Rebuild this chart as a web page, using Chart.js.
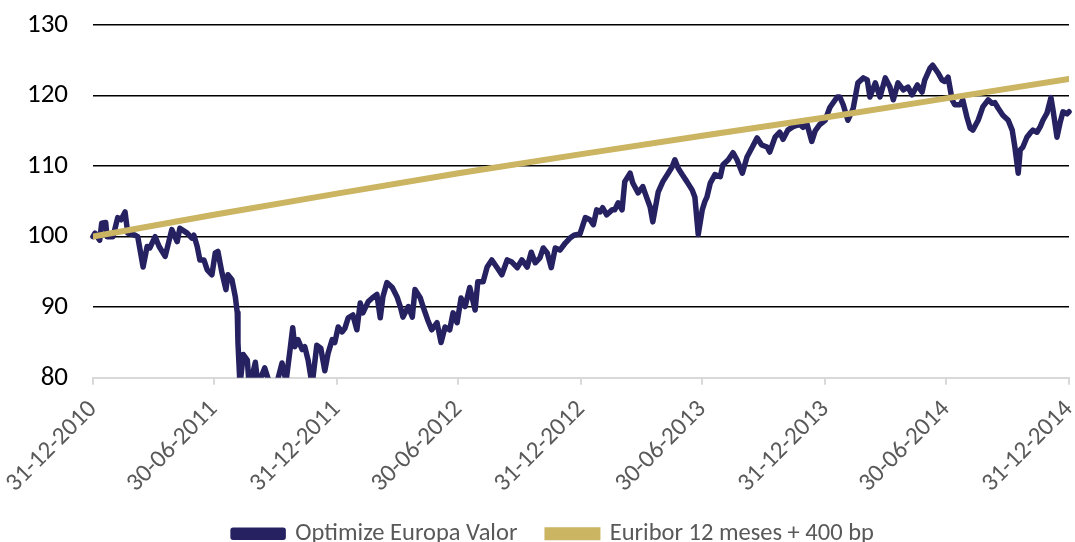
<!DOCTYPE html>
<html>
<head>
<meta charset="utf-8">
<script src="https://cdn.jsdelivr.net/npm/chart.js@4.4.1/dist/chart.umd.min.js"></script>
<style>
html, body { margin: 0; padding: 0; background: #fff; overflow: hidden; }
#wrap { width: 1075px; height: 556px; }
</style>
</head>
<body>
<div id="wrap"><canvas id="myChart" width="1075" height="556"></canvas></div>
<script>
// days counted from 31-12-2010
var tickDays = [0, 181, 365, 547, 731, 912, 1096, 1277, 1461];
var tickLabels = ['31-12-2010', '30-06-2011', '31-12-2011', '30-06-2012', '31-12-2012',
                  '30-06-2013', '31-12-2013', '30-06-2014', '31-12-2014'];

var fundDays = [
  0,3,10,13,19,21,30,37,42,48,
  52,63,67,75,81,85,93,99,108,118,
  126,130,141,148,151,156,160,166,171,178,
  183,187,193,199,202,208,213,216,217,220,
  225,231,234,243,247,257,265,274,283,289,
  295,299,302,307,313,317,322,328,335,341,
  347,352,358,362,367,373,377,382,389,395,
  400,404,412,418,425,430,434,440,448,455,
  460,464,472,478,482,490,494,501,507,515,
  521,527,534,539,545,551,557,564,572,576,
  584,590,597,605,612,620,627,635,642,650,
  656,662,669,674,680,686,692,699,707,714,
  720,729,737,744,749,754,759,763,769,777,
  781,786,792,796,804,808,816,823,829,834,
  838,846,853,861,867,871,876,882,889,897,
  901,906,912,916,919,924,931,939,943,951,
  958,964,972,979,987,994,1001,1009,1013,1021,
  1028,1033,1040,1048,1058,1063,1069,1076,1081,1088,
  1096,1103,1114,1118,1123,1130,1138,1145,1153,1159,
  1163,1171,1178,1186,1193,1198,1205,1213,1220,1226,
  1234,1241,1245,1253,1257,1265,1271,1275,1280,1286,
  1290,1298,1302,1308,1313,1317,1325,1332,1340,1346,
  1350,1355,1362,1370,1376,1380,1385,1388,1392,1398,
  1403,1407,1413,1418,1422,1428,1434,1437,1443,1448,
  1452,1458,1461
];
var fundValues = [
  100.0,100.5,99.5,101.9,102.0,100.0,100.0,102.7,102.4,103.5,
  100.5,100.2,100.0,95.7,98.6,98.4,100.0,98.6,97.2,101.0,
  99.3,101.2,100.5,99.8,100.2,98.6,96.7,96.7,95.3,94.6,
  97.7,97.9,94.9,92.5,94.6,93.9,91.5,89.2,85.0,79.0,
  83.3,82.5,78.5,82.2,79.0,81.4,79.0,78.8,82.1,79.5,
  84.0,87.1,84.4,85.4,84.0,84.4,82.5,79.0,84.6,84.2,
  81.0,83.5,85.4,85.0,87.2,86.5,87.0,88.5,88.9,86.8,
  90.6,89.2,90.8,91.3,91.8,88.5,91.5,93.5,92.8,91.5,
  90.1,88.6,90.1,88.6,92.5,91.3,90.1,88.2,86.8,87.8,
  85.0,87.2,86.8,89.2,87.8,91.3,90.1,92.8,89.6,93.6,
  93.6,95.7,96.7,95.6,94.6,96.7,96.4,95.6,96.7,95.7,
  97.8,96.3,97.0,98.4,97.7,95.6,98.4,98.1,99.1,99.8,
  100.2,100.4,102.7,102.4,101.7,103.8,103.5,104.1,103.1,103.8,
  103.8,104.8,103.8,107.8,109.0,107.6,106.2,107.1,105.5,104.2,
  102.1,106.3,107.8,109.0,109.9,110.9,109.7,108.8,107.8,106.6,
  105.6,100.3,103.8,105.0,105.6,107.6,108.8,108.5,110.2,110.9,
  111.9,110.9,109.0,111.3,112.7,114.0,113.0,112.7,112.0,114.1,
  114.8,113.8,115.1,115.6,115.9,115.5,115.9,113.5,115.0,115.9,
  116.5,118.3,119.8,119.8,118.7,116.5,118.2,121.8,122.5,122.2,
  119.8,121.8,119.8,122.5,121.2,119.4,121.8,120.8,121.2,120.1,
  121.5,120.5,122.2,123.9,124.3,123.2,122.2,122.0,122.6,119.4,
  118.7,118.7,119.4,117.0,115.4,115.1,116.5,118.4,119.4,118.9,
  119.0,118.2,117.2,116.5,115.1,112.7,109.0,112.3,112.7,114.1,
  114.7,115.1,114.8,115.6,116.5,117.5,119.7,118.0,114.1,116.3,
  117.7,117.4,117.7
];

var benchDays = [0, 181, 365, 547, 731, 912, 1096, 1277, 1461];
var benchValues = [100, 103.1, 106.1, 109.0, 111.7, 114.3, 116.9, 119.6, 122.35];

var navy = '#262262';
var gold = '#CBB462';
var font = "Carlito, 'Liberation Sans', Arial, sans-serif";

function toPoints(xs, ys) {
  var out = [];
  for (var i = 0; i < xs.length; i++) out.push({x: xs[i], y: ys[i]});
  return out;
}

// legend in the original sits a bit right of the canvas centre
var legendShift = {
  id: 'legendShift',
  afterLayout: function(chart) {
    chart.legend.left += 19;
    chart.legend.right += 19;
  }
};

var ctx = document.getElementById('myChart').getContext('2d');
var myChart = new Chart(ctx, {
  type: 'line',
  plugins: [legendShift],
  data: {
    datasets: [{
      label: 'Optimize Europa Valor',
      data: toPoints(fundDays, fundValues),
      borderColor: navy,
      backgroundColor: navy,
      borderWidth: 5.5,
      pointRadius: 0,
      tension: 0,
      borderJoinStyle: 'round',
      borderCapStyle: 'round',
      clip: {left: 3, right: 3, top: 3, bottom: 0},
      order: 2
    }, {
      label: 'Euribor 12 meses + 400 bp',
      data: toPoints(benchDays, benchValues),
      borderColor: gold,
      backgroundColor: gold,
      borderWidth: 6,
      pointRadius: 0,
      tension: 0,
      borderCapStyle: 'round',
      order: 1
    }]
  },
  options: {
    responsive: false,
    animation: false,
    layout: { padding: { left: 0, right: 6, top: 25, bottom: 0 } },
    plugins: {
      tooltip: { enabled: false },
      legend: {
        display: true,
        position: 'bottom',
        labels: {
          boxWidth: 50,
          boxHeight: 7,
          padding: 30,
          color: '#595959',
          font: { family: font, size: 24.5 },
          sort: function(a, b) { return a.datasetIndex - b.datasetIndex; }
        }
      }
    },
    scales: {
      x: {
        type: 'linear',
        min: 0,
        max: 1461,
        afterBuildTicks: function(scale) {
          scale.ticks = tickDays.map(function(d) { return {value: d}; });
        },
        afterFit: function(scale) {
          scale.paddingRight = 0;
          scale.paddingLeft = 0;
          scale.height = scale.height - 17;
        },
        ticks: {
          autoSkip: false,
          minRotation: 45,
          maxRotation: 45,
          color: '#595959',
          font: { family: font, size: 25 },
          padding: 10,
          callback: function(value, index) { return tickLabels[index]; }
        },
        grid: {
          drawOnChartArea: false,
          drawTicks: true,
          tickLength: 7,
          color: '#D9D9D9',
          lineWidth: 2
        },
        border: { display: true, color: '#D9D9D9', width: 2 }
      },
      y: {
        min: 80,
        max: 130,
        afterFit: function(scale) { scale.width = 93; scale.paddingTop = 0; scale.paddingBottom = 0; },
        ticks: {
          stepSize: 10,
          color: '#000',
          padding: 25,
          font: { family: font, size: 27 }
        },
        grid: {
          drawTicks: false,
          color: function(c) { return c.tick && c.tick.value === 80 ? 'rgba(0,0,0,0)' : '#000'; },
          lineWidth: 1.5
        },
        border: { display: false }
      }
    }
  }
});
</script>
</body>
</html>
